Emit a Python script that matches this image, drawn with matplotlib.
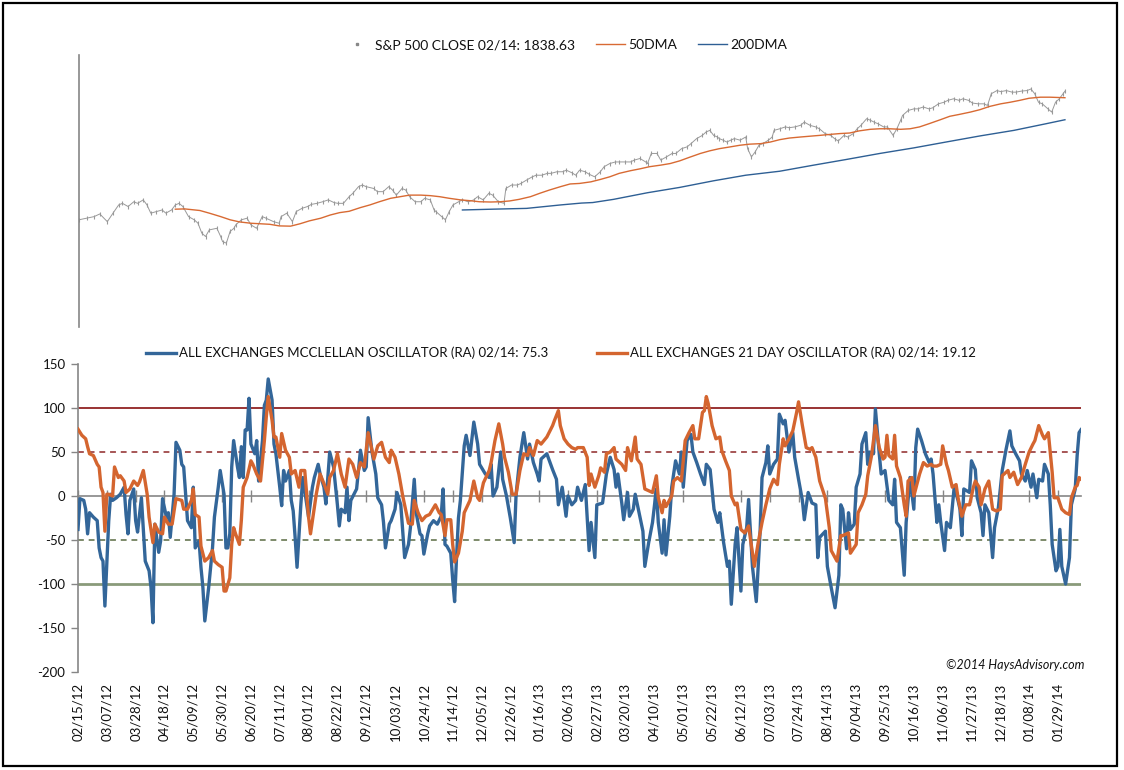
import matplotlib
matplotlib.use("Agg")
import matplotlib.pyplot as plt
from matplotlib.lines import Line2D
from matplotlib.patches import Rectangle

plt.rcParams['font.family'] = ['Lato', 'DejaVu Sans']
plt.rcParams['axes.unicode_minus'] = False

# ---- data (x = weekday number counted from 02/15/12) ----
spx_day = [0, 4, 8, 11, 15, 18, 21, 23, 26, 29, 31, 34, 36, 38, 41, 44, 46, 49, 51, 53,
           55, 58, 61, 63, 65, 67, 69, 73, 75, 76, 78, 80, 82, 83, 86, 89, 91, 94, 97, 99,
           103, 106, 107, 110, 113, 115, 118, 121, 123, 126, 129, 132, 135, 137, 140, 143, 145, 148, 150, 152,
           156, 158, 161, 164, 166, 168, 171, 173, 175, 178, 181, 183, 186, 188, 189, 192, 194, 196, 198, 201,
           203, 206, 209, 211, 214, 217, 219, 222, 225, 226, 229, 232, 234, 237, 240, 242, 245, 248, 250, 253,
           256, 258, 261, 263, 265, 268, 270, 273, 276, 278, 281, 284, 286, 289, 292, 294, 297, 300, 301, 303,
           306, 308, 311, 314, 316, 319, 322, 324, 327, 330, 332, 334, 336, 338, 339, 341, 343, 345, 347, 350,
           353, 354, 356, 358, 360, 362, 365, 367, 368, 371, 374, 376, 379, 382, 384, 387, 390, 392, 395, 398,
           400, 402, 405, 407, 410, 412, 414, 417, 419, 421, 423, 426, 428, 431, 433, 435, 436, 439, 442, 444,
           447, 450, 452, 455, 458, 460, 463, 466, 468, 471, 473, 476, 479, 481, 483, 486, 488, 491, 494, 496,
           499, 502, 504, 506, 508, 510, 513, 515, 517, 519, 521, 522]
spx_close = [1354, 1360, 1366, 1376, 1347, 1379, 1410, 1416, 1404, 1422, 1416, 1429, 1410, 1379, 1385, 1391, 1379, 1391, 1410, 1416,
             1404, 1366, 1354, 1341, 1304, 1291, 1316, 1322, 1291, 1272, 1266, 1310, 1322, 1335, 1354, 1360, 1335, 1322, 1366, 1360,
             1347, 1341, 1366, 1379, 1347, 1385, 1397, 1404, 1412, 1416, 1422, 1429, 1419, 1416, 1416, 1441, 1454, 1479, 1485, 1479,
             1472, 1460, 1460, 1479, 1466, 1447, 1472, 1466, 1441, 1422, 1422, 1435, 1429, 1391, 1385, 1366, 1354, 1385, 1410, 1422,
             1429, 1422, 1429, 1441, 1429, 1454, 1447, 1422, 1416, 1472, 1485, 1485, 1491, 1504, 1516, 1522, 1522, 1529, 1529, 1535,
             1535, 1541, 1531, 1522, 1541, 1535, 1526, 1516, 1535, 1554, 1566, 1572, 1572, 1572, 1572, 1579, 1585, 1572, 1566, 1604,
             1604, 1579, 1591, 1604, 1604, 1622, 1629, 1641, 1660, 1672, 1685, 1691, 1672, 1666, 1660, 1654, 1647, 1654, 1660, 1654,
             1666, 1622, 1591, 1610, 1635, 1641, 1654, 1666, 1691, 1697, 1704, 1701, 1704, 1710, 1722, 1710, 1704, 1697, 1679, 1672,
             1660, 1651, 1672, 1666, 1679, 1697, 1710, 1735, 1729, 1722, 1716, 1704, 1704, 1672, 1697, 1729, 1747, 1766, 1772, 1772,
             1779, 1772, 1776, 1791, 1797, 1804, 1810, 1804, 1810, 1804, 1794, 1791, 1791, 1785, 1829, 1841, 1837, 1841, 1835, 1835,
             1839, 1841, 1847, 1829, 1797, 1791, 1772, 1760, 1797, 1810, 1829, 1838.63]

dma50_day = [51, 56, 64, 69, 75, 80, 85, 91, 96, 101, 106, 112, 117, 122, 128, 133, 138, 143, 149, 154,
             159, 165, 170, 175, 181, 186, 191, 196, 202, 207, 212, 218, 223, 228, 233, 239, 244, 249, 255, 260,
             265, 271, 276, 281, 286, 292, 297, 302, 308, 313, 318, 323, 329, 334, 339, 345, 350, 355, 361, 366,
             371, 376, 382, 387, 392, 398, 403, 408, 413, 419, 424, 429, 435, 440, 445, 450, 456, 461, 466, 472,
             477, 482, 488, 493, 498, 503, 509, 514, 522]
dma50 = [1394, 1395, 1389, 1379, 1366, 1354, 1346, 1341, 1339, 1337, 1331, 1330, 1339, 1350, 1360, 1372, 1381, 1386, 1400, 1410,
         1422, 1435, 1441, 1447, 1447, 1445, 1441, 1435, 1429, 1426, 1422, 1421, 1422, 1425, 1431, 1441, 1454, 1466, 1479, 1489,
         1491, 1497, 1506, 1516, 1529, 1539, 1546, 1554, 1560, 1566, 1576, 1589, 1604, 1614, 1622, 1629, 1635, 1639, 1641, 1647,
         1656, 1662, 1666, 1669, 1672, 1676, 1679, 1681, 1689, 1695, 1697, 1697, 1695, 1697, 1704, 1716, 1731, 1744, 1751, 1760,
         1769, 1781, 1791, 1797, 1804, 1812, 1816, 1816, 1814]

dma200_day = [203, 219, 237, 255, 266, 272, 283, 301, 318, 336, 353, 371, 389, 406, 424, 442, 459, 477, 495, 512, 522]
dma200 = [1391, 1394, 1397, 1410, 1417, 1419, 1431, 1456, 1476, 1501, 1522, 1537, 1560, 1581, 1604, 1625, 1647, 1670, 1691, 1716, 1731]

mcc_day = [0, 1, 3, 4, 5, 6, 8, 10, 11, 12, 13, 14, 16, 17, 18, 20, 22, 24, 25, 26,
           27, 29, 30, 31, 33, 35, 37, 38, 39, 40, 42, 43, 44, 46, 47, 48, 50, 51, 53, 54,
           55, 56, 57, 59, 60, 61, 63, 64, 65, 66, 68, 70, 71, 73, 74, 76, 77, 78, 79, 80,
           81, 83, 84, 85, 86, 87, 88, 89, 90, 92, 93, 94, 96, 97, 98, 99, 101, 102, 103, 105,
           106, 107, 108, 110, 111, 112, 113, 114, 116, 117, 118, 120, 122, 123, 125, 126, 128, 129, 131, 133,
           135, 136, 137, 139, 140, 141, 142, 145, 147, 149, 150, 151, 153, 155, 156, 158, 159, 160, 162, 163,
           165, 166, 168, 169, 170, 172, 173, 175, 176, 178, 179, 180, 182, 183, 185, 187, 189, 190, 191, 192,
           194, 195, 196, 197, 198, 199, 201, 202, 204, 206, 208, 209, 212, 214, 215, 216, 218, 220, 221, 223,
           225, 227, 228, 230, 232, 234, 235, 237, 239, 240, 241, 244, 246, 247, 249, 250, 252, 254, 255, 257,
           259, 260, 262, 264, 266, 267, 269, 270, 273, 275, 277, 279, 280, 281, 283, 284, 286, 287, 289, 290,
           292, 294, 295, 297, 299, 301, 302, 304, 305, 306, 308, 309, 311, 313, 314, 315, 317, 319, 320, 322,
           324, 326, 327, 329, 331, 333, 334, 336, 338, 339, 340, 342, 343, 345, 346, 348, 349, 351, 352, 353,
           355, 356, 358, 359, 360, 362, 364, 365, 367, 368, 370, 372, 373, 375, 377, 378, 380, 382, 384, 385,
           386, 389, 390, 392, 394, 396, 397, 398, 400, 401, 402, 404, 405, 407, 408, 410, 411, 412, 414, 415,
           417, 418, 420, 422, 424, 425, 426, 428, 430, 431, 433, 435, 436, 437, 439, 441, 443, 444, 445, 447,
           448, 449, 451, 452, 454, 456, 458, 459, 460, 461, 464, 465, 467, 468, 470, 471, 472, 474, 476, 477,
           479, 481, 483, 485, 486, 488, 490, 491, 493, 494, 496, 497, 499, 500, 502, 503, 505, 506, 507, 509,
           510, 511, 512, 514, 516, 517, 519, 520, 521, 522]
mcc_val = [-38, -3, -5, -15, -43, -19, -24, -28, -59, -70, -74, -125, -28, 2, -5, -2, 2, 10, -21, -43,
           -5, 8, -28, -41, -2, -74, -85, -104, -144, -32, -64, -51, -3, -24, -19, -47, 2, 61, 52, 36,
           33, 2, -28, -36, 10, -59, -51, -81, -104, -142, -104, -59, -24, 10, 29, 2, -59, -59, -43, 33,
           63, 33, 21, 56, 21, 75, 75, 111, 59, 48, 63, 17, 63, 103, 109, 133, 109, 59, 48, 10,
           -11, 29, 17, 29, -5, -17, -47, -81, -9, 21, 6, -24, 10, 21, 36, 25, 10, -9, 50, 33,
           -10, -34, -15, -19, 10, -28, -5, 8, 52, 29, 33, 89, 50, 25, -2, -10, -30, -59, -32, -28,
           -15, 4, -10, -40, -70, -55, -36, 19, -19, -43, -45, -66, -43, -34, -28, -32, -23, 8, -55, -57,
           -65, -95, -120, -70, -25, -5, 57, 69, 46, 84, 59, 36, 25, 21, 36, 0, 10, 50, 19, 0,
           -25, -53, 2, 44, 72, 42, 59, 38, 25, 17, 42, 48, 36, 30, 19, -10, 10, -23, 0, -10,
           -5, 10, -5, 13, -62, -30, -70, -10, -8, 25, 44, 30, 10, 25, -8, -27, 4, -23, -15, 2,
           -19, -40, -80, -53, -30, 8, -30, -65, -27, -67, -23, 10, 40, 25, 50, 10, 63, 70, 50, 38,
           25, 13, 36, 30, -15, -30, -19, -53, -80, -74, -123, -55, -36, -108, -55, -36, -4, -80, -100, -120,
           -40, 21, 38, 57, 25, 36, 42, 93, 82, 86, 50, 72, 44, 19, -5, -27, 4, -8, -10, -70,
           -47, -40, -80, -104, -127, -90, -10, -15, -60, -19, -38, -32, 10, 25, 59, 72, 36, 50, 48, 99,
           48, 25, 29, -5, -10, 19, -30, -36, -90, -30, 21, -15, 55, 76, 63, 48, 38, 42, 25, -30,
           -10, -30, -62, -30, -36, 10, -5, -15, -45, 8, 4, 40, 30, -2, -19, -45, -10, -19, -70, -36,
           -13, 29, 53, 74, 57, 48, 40, 25, 17, 29, 10, 25, -2, 19, 17, 36, 25, -10, -55, -85,
           -80, -38, -80, -100, -70, -10, 8, 46, 72, 75.3]

osc21_day = [0, 2, 4, 5, 6, 8, 10, 11, 12, 13, 14, 15, 16, 18, 19, 21, 22, 24, 25, 27,
             29, 31, 32, 34, 36, 37, 39, 40, 42, 44, 45, 47, 49, 50, 51, 54, 55, 57, 59, 60,
             61, 63, 64, 66, 68, 70, 71, 73, 75, 76, 77, 79, 80, 81, 82, 84, 85, 86, 88, 90,
             91, 93, 95, 97, 98, 99, 101, 102, 103, 105, 106, 108, 110, 111, 113, 115, 116, 118, 120, 121,
             123, 124, 126, 128, 130, 131, 133, 135, 137, 139, 141, 143, 145, 147, 149, 151, 154, 156, 158, 160,
             162, 163, 165, 167, 169, 172, 174, 175, 177, 179, 181, 183, 186, 188, 189, 191, 192, 194, 195, 196,
             198, 200, 201, 204, 206, 208, 209, 211, 214, 215, 217, 219, 221, 222, 224, 226, 228, 230, 232, 234,
             235, 237, 239, 241, 244, 247, 248, 250, 251, 253, 255, 257, 259, 260, 263, 265, 266, 267, 269, 271,
             272, 274, 275, 277, 279, 280, 283, 285, 286, 288, 290, 291, 293, 295, 297, 299, 301, 302, 304, 305,
             306, 309, 310, 312, 314, 316, 318, 320, 321, 323, 325, 326, 327, 328, 330, 332, 334, 335, 337, 339,
             340, 342, 343, 345, 347, 349, 351, 352, 354, 356, 358, 360, 362, 364, 365, 367, 368, 370, 372, 374,
             375, 377, 379, 381, 382, 384, 386, 388, 389, 391, 392, 395, 397, 398, 401, 402, 405, 406, 408, 410,
             411, 413, 415, 417, 419, 420, 421, 422, 424, 425, 426, 428, 430, 431, 432, 434, 435, 437, 438, 440,
             442, 444, 445, 447, 449, 450, 452, 453, 455, 457, 458, 460, 462, 464, 466, 467, 469, 470, 472, 474,
             476, 478, 480, 481, 484, 485, 487, 489, 491, 493, 495, 497, 498, 500, 502, 503, 505, 507, 508, 510,
             512, 514, 516, 517, 519, 520, 521, 522]
osc21_val = [76, 69, 65, 56, 48, 46, 36, 33, 10, 4, -40, 2, 2, 0, 33, 21, 23, 17, 4, 8,
             17, 12, 16, 29, 2, -24, -53, -32, -41, -43, -24, -32, -32, -17, -3, -5, -15, -15, -5, 8,
             -21, -24, -57, -74, -70, -62, -74, -78, -81, -108, -108, -93, -55, -36, -43, -55, -28, 10, 21, 40,
             36, 25, 17, 63, 90, 113, 86, 67, 67, 44, 71, 52, 44, 25, 29, 10, 29, 29, -24, -43,
             -13, 2, 25, 14, 2, 21, 29, 48, 25, 10, 42, 36, 21, 38, 33, 72, 42, 57, 61, 44,
             38, 52, 44, 25, 0, -31, -32, -5, -19, -28, -23, -21, -10, -19, -21, -45, -27, -27, -55, -75,
             -65, -40, -19, -5, 17, -2, -5, 15, 29, 38, 63, 82, 59, 44, 27, 2, 2, 29, 48, 46,
             55, 46, 63, 59, 67, 80, 86, 97, 80, 65, 59, 55, 53, 55, 55, 44, 12, 25, 10, 23,
             32, 27, 48, 50, 55, 42, 36, 29, 55, 40, 67, 42, 36, 8, 6, 4, 23, -2, -19, -5,
             -12, 0, 17, 21, 17, 63, 72, 80, 65, 65, 95, 97, 113, 105, 80, 65, 67, 52, 40, 29,
             0, -10, -8, -38, -42, -34, -65, -80, -53, -30, -10, 8, 19, 13, 36, 65, 57, 65, 74, 95,
             107, 80, 55, 53, 55, 44, 17, 4, -3, -36, -62, -74, -45, -45, -42, -65, -55, -19, -10, 2,
             23, 46, 80, 55, 42, 44, 69, 46, 42, 69, 34, 21, -10, -23, 17, 21, 0, 17, 25, 38,
             34, 36, 34, 34, 36, 57, 36, 29, 10, 13, -2, -23, -10, -10, 10, 17, 10, -10, 8, 17,
             -15, -17, -15, 23, 29, 21, 27, 13, 21, 36, 50, 59, 63, 80, 69, 65, 72, 27, -2, -2,
             -15, -19, -21, -2, 10, 12, 21, 19.12]

date_ticks = [0, 15, 30, 45, 60, 75, 90, 105, 120, 135, 150, 165, 180, 195, 210, 225, 240, 255,
              270, 285, 300, 315, 330, 345, 360, 375, 390, 405, 420, 435, 450, 465, 480, 495, 510]
date_labels = ['02/15/12', '03/07/12', '03/28/12', '04/18/12', '05/09/12', '05/30/12', '06/20/12',
               '07/11/12', '08/01/12', '08/22/12', '09/12/12', '10/03/12', '10/24/12', '11/14/12',
               '12/05/12', '12/26/12', '01/16/13', '02/06/13', '02/27/13', '03/20/13', '04/10/13',
               '05/01/13', '05/22/13', '06/12/13', '07/03/13', '07/24/13', '08/14/13', '09/04/13',
               '09/25/13', '10/16/13', '11/06/13', '11/27/13', '12/18/13', '01/08/14', '01/29/14']
osc_levels = [100, 50, -50, -100]
osc_yticks = [150, 100, 50, 0, -50, -100, -150, -200]

# ---- styles ----
BLUE = '#336699'
ORANGE = '#D4652F'
GRAY = '#868686'
TXT = '#111111'
FS = 9.5

fig = plt.figure(figsize=(11.24, 7.70), dpi=100)
W, H = 1124, 770

# top panel: S&P 500
ax1 = fig.add_axes([79 / W, 1 - 327 / H, 1002 / W, 272 / H])
ax1.plot(spx_day, spx_close, color='#999999', lw=0.7, marker='|', ms=3.5, mew=0.8, zorder=2)
ax1.plot(dma50_day, dma50, color='#D86A33', lw=1.0, zorder=3)
ax1.plot(dma200_day, dma200, color='#2E5F94', lw=1.0, zorder=3)
ax1.set_xlim(0, 530.5)
ax1.set_ylim(950, 1975)
for s in ['top', 'right', 'bottom']:
    ax1.spines[s].set_visible(False)
ax1.spines['left'].set_color(GRAY)
ax1.spines['left'].set_linewidth(1.2)
ax1.set_xticks([])
ax1.set_yticks([])

top_handles = [
    Line2D([], [], ls='none', marker='s', ms=2, color='#888888'),
    Line2D([], [], color='#D86A33', lw=1.0),
    Line2D([], [], color='#2E5F94', lw=1.0),
]
fig.legend(top_handles, ['S&P 500 CLOSE 02/14: 1838.63', '50DMA', '200DMA'],
           loc='center', bbox_to_anchor=(565 / W, 1 - 45 / H), ncol=3, frameon=False,
           fontsize=FS + 0.5, handlelength=2.1, columnspacing=1.5, handletextpad=0.25,
           labelcolor=TXT)

# bottom panel: oscillators
ax2 = fig.add_axes([78 / W, 1 - 672 / H, 1003 / W, 308 / H])
ax2.axhline(osc_levels[0], color='#993333', lw=1.4, zorder=1)
ax2.axhline(osc_levels[1], color='#A65555', lw=1.4, ls=(0, (3, 2.5)), zorder=1)
ax2.axhline(osc_levels[2], color='#7D8A6A', lw=1.4, ls=(0, (3, 2.5)), zorder=1)
ax2.axhline(osc_levels[3], color='#8A9A7A', lw=2.0, zorder=1)
l1, = ax2.plot(mcc_day, mcc_val, color=BLUE, lw=2.4, zorder=3, solid_joinstyle='round')
l2, = ax2.plot(osc21_day, osc21_val, color=ORANGE, lw=2.4, zorder=4, solid_joinstyle='round')
ax2.set_xlim(0, 522)
ax2.set_ylim(-200, 150)
ax2.set_yticks(osc_yticks)
ax2.tick_params(axis='y', direction='out', length=5, width=1, color=GRAY,
                labelsize=FS, labelcolor=TXT, pad=4)
ax2.spines['top'].set_visible(False)
ax2.spines['right'].set_visible(False)
ax2.spines['left'].set_color(GRAY)
ax2.spines['left'].set_linewidth(1.2)
ax2.spines['bottom'].set_position(('data', 0))
ax2.spines['bottom'].set_color(GRAY)
ax2.spines['bottom'].set_linewidth(1.2)
ax2.spines['bottom'].set_zorder(2)
ax2.set_xticks(date_ticks)
ax2.tick_params(axis='x', direction='inout', length=9, width=1, color=GRAY, labelbottom=False)

sec = ax2.secondary_xaxis('bottom')
sec.set_xticks(date_ticks)
sec.set_xticklabels(date_labels, rotation=90, fontsize=FS, color=TXT)
sec.tick_params(axis='x', length=0, pad=8)
sec.spines['bottom'].set_visible(False)

fig.legend([l1, l2], ['ALL EXCHANGES MCCLELLAN OSCILLATOR (RA) 02/14: 75.3',
                      'ALL EXCHANGES 21 DAY OSCILLATOR (RA) 02/14: 19.12'],
           loc='center', bbox_to_anchor=(561 / W, 1 - 353 / H), ncol=2, frameon=False,
           fontsize=FS, handlelength=2.3, columnspacing=3.7, handletextpad=0.2,
           labelcolor=TXT)

fig.text(1085 / W, 1 - 665 / H, '\u00a92014 HaysAdvisory.com', ha='right', va='center',
         fontsize=9, style='italic', color=TXT)

# outer frame
fig.add_artist(Rectangle((3 / W, 4 / H), 1114 / W, 763 / H, transform=fig.transFigure,
                         fill=False, ec='black', lw=1.6))

fig.savefig('out.png', dpi=100)
